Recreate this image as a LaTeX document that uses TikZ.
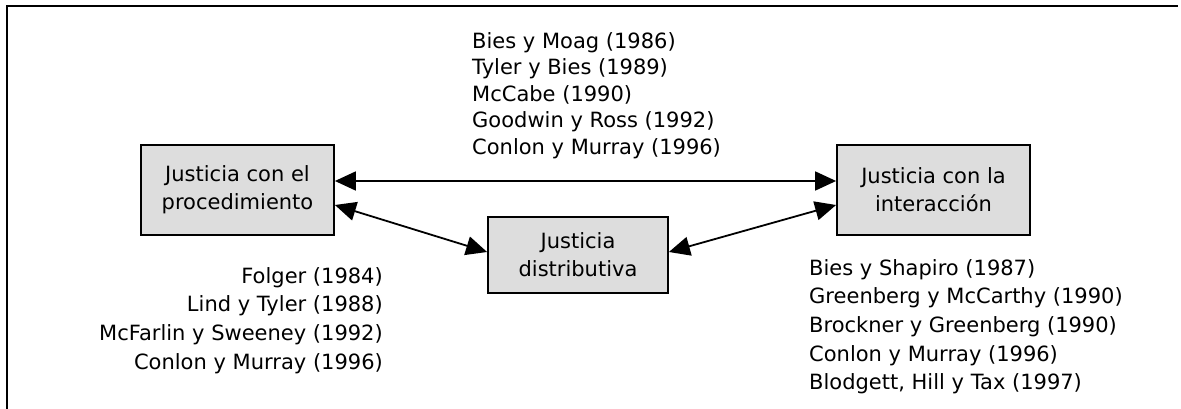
\documentclass[tikz,border=0pt]{standalone}
\usepackage{fontspec}
\setmainfont{DejaVu Sans}
\usetikzlibrary{arrows.meta}

\definecolor{boxgray}{RGB}{221,221,221}

\tikzset{
  justbox/.style={draw, line width=1.8pt, fill=boxgray, minimum width=193pt,
    minimum height=90pt, align=center, inner sep=0pt,
    font=\fontsize{21}{28}\selectfont},
  reflist/.style={inner sep=0pt, font=\fontsize{21}{28.7}\selectfont},
  link/.style={line width=1.8pt,
    {Triangle[length=21pt,width=19pt]}-{Triangle[length=21pt,width=19pt]}}
}

\begin{document}
\begin{tikzpicture}[x=1pt, y=-1pt]
    \useasboundingbox (0,0) rectangle (1181,409);
    % frame
    \draw[line width=2.2pt] (7,409) -- (7,6) -- (1178,6);

    % the three kinds of justice
    \node[justbox] (proc) at (237.5,190) {Justicia con el\\procedimiento};
    \node[justbox] (inter) at (933.5,190) {Justicia con la\\interacción};
    \node[justbox, minimum width=180pt, minimum height=76pt] (dist) at (578,255)
        {Justicia\\distributiva};

    % links
    \draw[link] ([yshift=9pt]proc.east) -- ([yshift=9pt]inter.west);
    \draw[link] ([yshift=-15pt]proc.east) -- ([yshift=3pt]dist.west);
    \draw[link] ([yshift=3pt]dist.east) -- ([yshift=-15pt]inter.west);

    % references
    \node[reflist, align=left, anchor=north west, font=\fontsize{21}{26.5}\selectfont]
        (refs-top) at (472,32)
        {Bies y Moag (1986)\\Tyler y Bies (1989)\\McCabe (1990)\\Goodwin y Ross (1992)\\Conlon y Murray (1996)};
    \node[reflist, align=right, anchor=north east] (refs-proc) at (383,267)
        {Folger (1984)\\Lind y Tyler (1988)\\McFarlin y Sweeney (1992)\\Conlon y Murray (1996)};
    \node[reflist, align=left, anchor=north west] (refs-inter) at (809,259)
        {Bies y Shapiro (1987)\\Greenberg y McCarthy (1990)\\Brockner y Greenberg (1990)\\Conlon y Murray (1996)\\Blodgett, Hill y Tax (1997)};
\end{tikzpicture}
\end{document}
